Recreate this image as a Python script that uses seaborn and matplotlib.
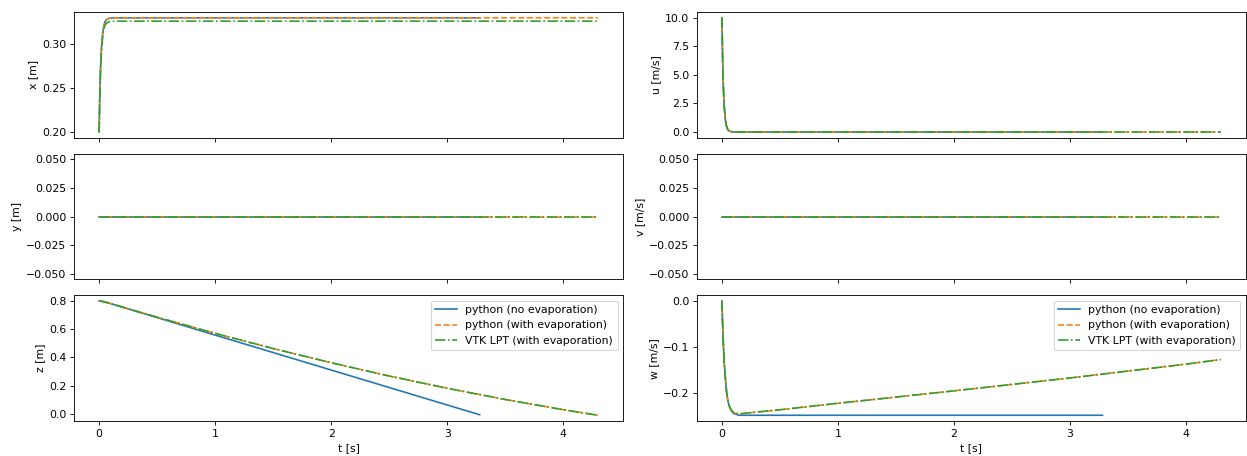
import matplotlib
matplotlib.use('Agg')
import matplotlib.pyplot as plt
from matplotlib.ticker import MultipleLocator
import seaborn as sns

# time axes of the three runs
t_noevap = [0, 0.005, 0.01, 0.015, 0.02, 0.03, 0.04, 0.05, 0.06, 0.08, 0.10, 0.12, 0.15,
            0.2, 0.5, 1.0, 1.5, 2.0, 2.5, 3.0, 3.28]
t_evap = [0, 0.005, 0.01, 0.015, 0.02, 0.03, 0.04, 0.05, 0.06, 0.08, 0.10, 0.12, 0.15,
          0.17, 0.2, 0.5, 1.0, 1.5, 2.0, 2.5, 3.0, 3.5, 4.0, 4.3]
t_vtk = t_evap

# x position [m]
x_noevap = [0.2, 0.2380, 0.2640, 0.2825, 0.2955, 0.3115, 0.3205, 0.3250, 0.3272, 0.3288, 0.3294,
            0.3296, 0.3297, 0.3297, 0.3297, 0.3297, 0.3297, 0.3297, 0.3297, 0.3297, 0.3297]
x_evap = [0.2, 0.2380, 0.2640, 0.2825, 0.2955, 0.3115, 0.3205, 0.3250, 0.3272, 0.3288, 0.3294,
          0.3296, 0.3297, 0.3297, 0.3297, 0.3297, 0.3297, 0.3297, 0.3297, 0.3297, 0.3297,
          0.3297, 0.3297, 0.3297]
x_vtk = [0.2, 0.2360, 0.2610, 0.2790, 0.2915, 0.3075, 0.3165, 0.3210, 0.3233, 0.3250, 0.3256,
         0.3258, 0.3259, 0.3259, 0.3259, 0.3259, 0.3259, 0.3259, 0.3259, 0.3259, 0.3259,
         0.3259, 0.3259, 0.3259]

# y position [m] and v velocity [m/s] stay at zero
t_flat_noevap = [0, 3.28]
t_flat_evap = [0, 4.3]
zero_line = [0.0, 0.0]

# z position [m]
z_noevap = [0.8, 0.7999, 0.7996, 0.7991, 0.7985, 0.7970, 0.7952, 0.7931, 0.7909, 0.7863, 0.7815,
            0.7766, 0.7692, 0.7568, 0.6824, 0.5584, 0.4344, 0.3104, 0.1864, 0.0624, -0.0070]
z_evap = [0.8, 0.7999, 0.7996, 0.7991, 0.7985, 0.7970, 0.7952, 0.7931, 0.7909, 0.7863, 0.7815,
          0.7766, 0.7693, 0.7644, 0.7571, 0.6851, 0.5706, 0.4630, 0.3621, 0.2681, 0.1811,
          0.1013, 0.0290, -0.0106]
z_vtk = z_evap

# u velocity [m/s]
u_noevap = [10.0, 6.8, 4.6, 3.2, 2.2, 1.0, 0.48, 0.23, 0.11, 0.03, 0.01,
            0.0, 0.0, 0.0, 0.0, 0.0, 0.0, 0.0, 0.0, 0.0, 0.0]
u_evap = [10.0, 6.8, 4.6, 3.2, 2.2, 1.0, 0.48, 0.23, 0.11, 0.03, 0.01,
          0.0, 0.0, 0.0, 0.0, 0.0, 0.0, 0.0, 0.0, 0.0, 0.0, 0.0, 0.0, 0.0]
u_vtk = u_evap

# w velocity [m/s]
w_noevap = [0.0, -0.045, -0.08, -0.11, -0.135, -0.17, -0.198, -0.215, -0.226, -0.238, -0.244,
            -0.246, -0.248, -0.248, -0.248, -0.248, -0.248, -0.248, -0.248, -0.248, -0.248]
w_evap = [0.0, -0.045, -0.08, -0.11, -0.135, -0.17, -0.198, -0.215, -0.226, -0.237, -0.242,
          -0.244, -0.2448, -0.2445, -0.2437, -0.236, -0.222, -0.2085, -0.195, -0.181, -0.167,
          -0.152, -0.137, -0.127]
w_vtk = w_evap

labels = ['python (no evaporation)', 'python (with evaporation)', 'VTK LPT (with evaporation)']
colors = sns.color_palette('tab10', 3)
styles = ['-', '--', '-.']

panels = [
    ('x [m]', (t_noevap, x_noevap), (t_evap, x_evap), (t_vtk, x_vtk)),
    ('u [m/s]', (t_noevap, u_noevap), (t_evap, u_evap), (t_vtk, u_vtk)),
    ('y [m]', (t_flat_noevap, zero_line), (t_flat_evap, zero_line), (t_flat_evap, zero_line)),
    ('v [m/s]', (t_flat_noevap, zero_line), (t_flat_evap, zero_line), (t_flat_evap, zero_line)),
    ('z [m]', (t_noevap, z_noevap), (t_evap, z_evap), (t_vtk, z_vtk)),
    ('w [m/s]', (t_noevap, w_noevap), (t_evap, w_evap), (t_vtk, w_vtk)),
]

# the original looks like a bigger figure scaled down, so render at a low dpi
fig, axes = plt.subplots(3, 2, figsize=(1247 / 78, 456 / 78), dpi=78, sharex=True)

for ax, (ylabel, *series) in zip(axes.flat, panels):
    for (tt, vals), lab, col, ls in zip(series, labels, colors, styles):
        sns.lineplot(x=tt, y=vals, ax=ax, color=col, linestyle=ls, label=lab,
                     estimator=None, sort=False, linewidth=1.5)
    ax.set_ylabel(ylabel)
    ax.set_xlabel('')
    leg = ax.get_legend()
    if leg is not None:
        leg.remove()

axes[0, 1].yaxis.set_major_locator(MultipleLocator(2.5))
axes[2, 0].yaxis.set_major_locator(MultipleLocator(0.2))

for ax in axes[2]:
    ax.set_xlabel('t [s]')
    ax.legend(loc='upper right')

plt.subplots_adjust(left=0.0595, right=0.999, top=0.9735, bottom=0.0768,
                    wspace=0.135, hspace=0.127)

plt.savefig('out.png', dpi=78)
plt.close('all')
